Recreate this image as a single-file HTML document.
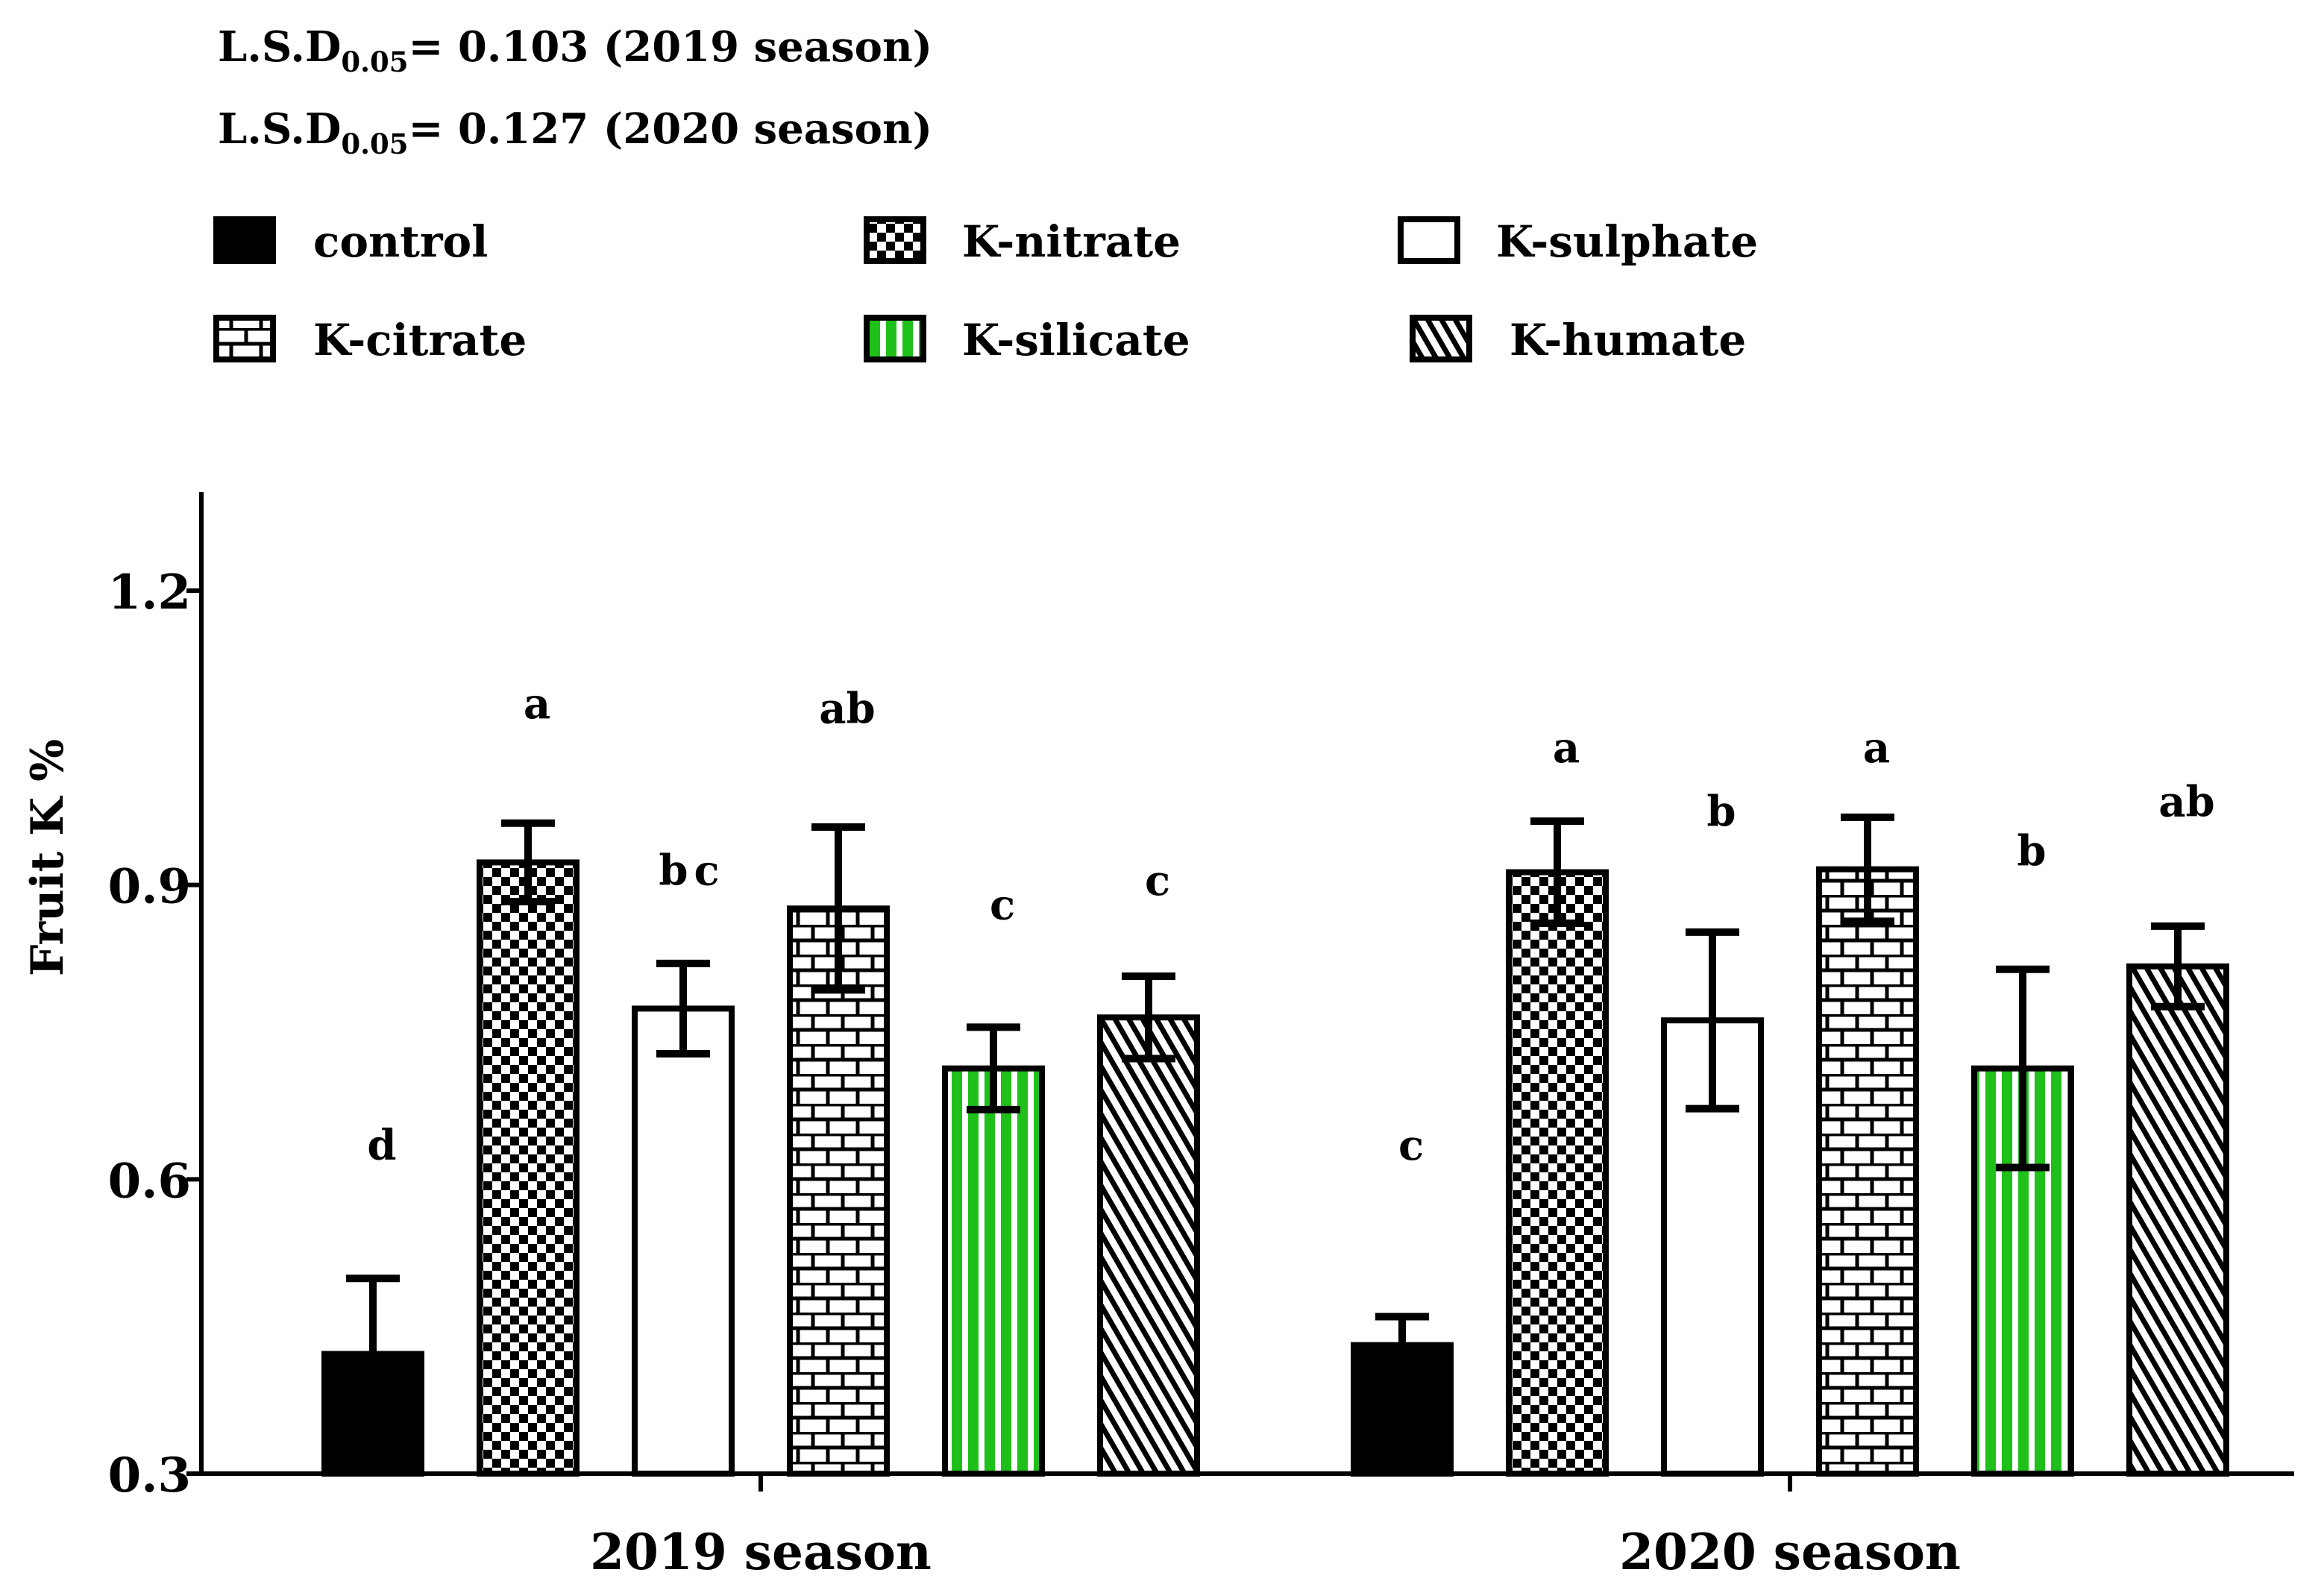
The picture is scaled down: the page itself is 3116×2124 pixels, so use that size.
<!DOCTYPE html>
<html><head><meta charset="utf-8"><style>
html,body{margin:0;padding:0;background:#fff;}
svg{display:block;font-family:"DejaVu Serif","Liberation Serif",serif;font-weight:bold;}
</style></head><body>
<svg id="chart" width="3116" height="2124" viewBox="0 0 3116 2124" xmlns="http://www.w3.org/2000/svg">
<defs>
<pattern id="p-checker" patternUnits="userSpaceOnUse" width="24" height="24">
<rect width="24" height="24" fill="#fff"/><rect width="12" height="12" fill="#000"/><rect x="12" y="12" width="12" height="12" fill="#000"/>
</pattern>
<pattern id="p-brick" patternUnits="userSpaceOnUse" width="40" height="40">
<rect width="40" height="40" fill="#fff"/>
<path d="M0 1H40M0 21H40M10 0V20M30 20V40" stroke="#000" stroke-width="5"/>
</pattern>
<pattern id="p-green" patternUnits="userSpaceOnUse" width="22" height="22">
<rect width="22" height="22" fill="#fff"/><rect width="14" height="22" fill="#1fc01a"/>
</pattern>
<pattern id="p-diag" patternUnits="userSpaceOnUse" width="16" height="16" patternTransform="rotate(-30)">
<rect width="16" height="16" fill="#fff"/><rect width="7" height="16" fill="#000"/>
</pattern>
</defs>
<g font-size="56">
<text x="292" y="82">L.S.D<tspan font-size="37" dy="14">0.05</tspan><tspan dy="-14">= 0.103 (2019 season)</tspan></text>
<text x="292" y="192">L.S.D<tspan font-size="37" dy="14">0.05</tspan><tspan dy="-14">= 0.127 (2020 season)</tspan></text>
</g>
<g id="legend" font-size="58"></g>
<g id="plot"></g>
</svg>
<script>
const categories = ["2019 season","2020 season"];
const series = ["control","K-nitrate","K-sulphate","K-citrate","K-silicate","K-humate"];
const fills = ["#000","url(#p-checker)","#fff","url(#p-brick)","url(#p-green)","url(#p-diag)"];
const values2019 = [0.422,0.923,0.774,0.876,0.713,0.765];
const values2020 = [0.431,0.913,0.762,0.916,0.713,0.817];
const err2019 = [0.077,0.04,0.046,0.083,0.042,0.042];
const err2020 = [0.029,0.052,0.09,0.053,0.101,0.041];
const letters2019 = ["d","a","bc","ab","c","c"];
const letters2020 = ["c","a","b","a","b","ab"];
const yTicks = [0.3,0.6,0.9,1.2];
const letterY2019 = [0.62,1.07,0.9,1.065,0.865,0.89];
const letterY2020 = [0.62,1.025,0.96,1.025,0.92,0.97];

const NS="http://www.w3.org/2000/svg";
const plot=document.getElementById('plot');
const yMin=0.3,yMax=1.2,py0=1976,py1=792;
const y=v=>py0-(v-yMin)/(yMax-yMin)*(py0-py1);
const groupCenters=[1020,2400];
const barW=130,step=208;
const x=(g,i)=>groupCenters[g]+(i-2.5)*step;
function el(t,a,p){const e=document.createElementNS(NS,t);for(const k in a)e.setAttribute(k,a[k]);(p||plot).appendChild(e);return e;}

const vals=[values2019,values2020],errs=[err2019,err2020],lets=[letters2019,letters2020],ly=[letterY2019,letterY2020];
for(let g=0;g<2;g++){
 for(let i=0;i<series.length;i++){
  const cx=x(g,i),v=vals[g][i],e=errs[g][i];
  const r=el('rect',{x:cx-barW/2,y:y(v),width:barW,height:y(yMin)-y(v),fill:fills[i],stroke:'#000','stroke-width':8});
  
  
  const lo=i===0?v:v-e;
  const eb=el('path',{d:`M${cx} ${y(v+e)}V${y(lo)}M${cx-36} ${y(v+e)}H${cx+36}`+(i===0?'':`M${cx-36} ${y(lo)}H${cx+36}`),stroke:'#000','stroke-width':10,fill:'none'});
  
  
  const t=el('text',{x:cx+12,y:y(ly[g][i]),'text-anchor':'middle','font-size':56,'letter-spacing':lets[g][i]==='bc'?8:0});
  t.textContent=lets[g][i];
  
  
 }
}
const ax=el('path',{d:'M270 660V1976H3076',stroke:'#000','stroke-width':6,fill:'none'});


yTicks.forEach(v=>{
 const tk=el('path',{d:`M250 ${y(v)}H270`,stroke:'#000','stroke-width':6});
 
 
 const t=el('text',{x:256,y:y(v)+24,'text-anchor':'end','font-size':64});
 t.textContent=v.toFixed(1);
 
 
});
categories.forEach((c,g)=>{
 const tk=el('path',{d:`M${groupCenters[g]} 1976V2000`,stroke:'#000','stroke-width':6});
 
 
 const t=el('text',{x:groupCenters[g],y:2104,'text-anchor':'middle','font-size':66});
 t.textContent=c;
 
 
});
const yl=el('text',{x:0,y:0,transform:'translate(84,1150) rotate(-90)','text-anchor':'middle','font-size':60});
yl.textContent='Fruit  K %';



const leg=document.getElementById('legend');
const legX=[[286,420],[1158,1290],[1874,2006],[286,420],[1158,1290],[1890,2024]];
const legY=[290,290,290,422,422,422];
series.forEach((name,s)=>{
 const [sx,tx]=legX[s],sy=legY[s];
 const r=el('rect',{x:sx+4,y:sy+4,width:76,height:56,fill:fills[s],stroke:'#000','stroke-width':8},leg);
 
 
 const t=el('text',{x:tx,y:sy+54},leg);
 t.textContent=name;
 
 
});
</script>
</body></html>
